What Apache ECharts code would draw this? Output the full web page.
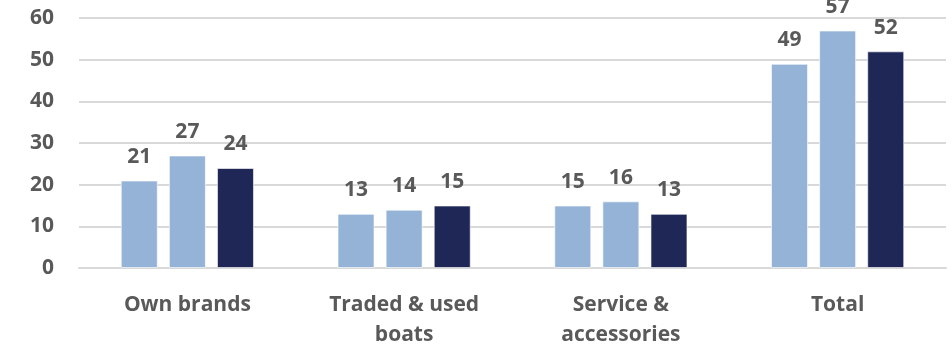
<!DOCTYPE html>
<html><head><meta charset="utf-8">
<script src="https://cdn.jsdelivr.net/npm/echarts@6/dist/echarts.min.js"></script>
<style>html,body{margin:0;padding:0;background:#fff}#c{width:952px;height:350px}</style>
</head><body><div id="c"></div>
<script>
const categories = ["Own brands", "Traded & used\nboats", "Service &\naccessories", "Total"];
const series1 = [21, 13, 15, 49];
const series2 = [27, 14, 16, 57];
const series3 = [24, 15, 13, 52];
const yTicks = {min: 0, max: 60, interval: 10};

const font = '"Open Sans", sans-serif';
const txt = '#595959';
const lab = {show: true, position: 'top', distance: 13, color: txt, fontFamily: font, fontWeight: 'bold', fontSize: 21};
function s(data, color) {
  return {type: 'bar', data: data, barWidth: 37, barGap: '30%',
    itemStyle: {color: color, borderColor: 'rgba(255,255,255,0.6)', borderWidth: 1},
    label: lab};
}
const chart = echarts.init(document.getElementById('c'), null, {renderer: 'canvas'});
chart.setOption({
  animation: false,
  grid: {left: 79, right: 6, top: 18, bottom: 79, containLabel: false},
  xAxis: {type: 'category', data: categories,
    axisLine: {show: true, lineStyle: {color: '#d9d9d9', width: 2}},
    axisTick: {show: false},
    axisLabel: {color: txt, fontFamily: font, fontWeight: 'bold', fontSize: 21, margin: 22, lineHeight: 30, interval: 0}},
  yAxis: {type: 'value', min: yTicks.min, max: yTicks.max, interval: yTicks.interval,
    axisLine: {show: false}, axisTick: {show: false},
    splitLine: {lineStyle: {color: '#d9d9d9', width: 2}},
    axisLabel: {color: txt, fontFamily: font, fontWeight: 'bold', fontSize: 21, margin: 25}},
  series: [s(series1, '#95B3D7'), s(series2, '#95B3D7'), s(series3, '#1F2756')]
});
</script></body></html>
